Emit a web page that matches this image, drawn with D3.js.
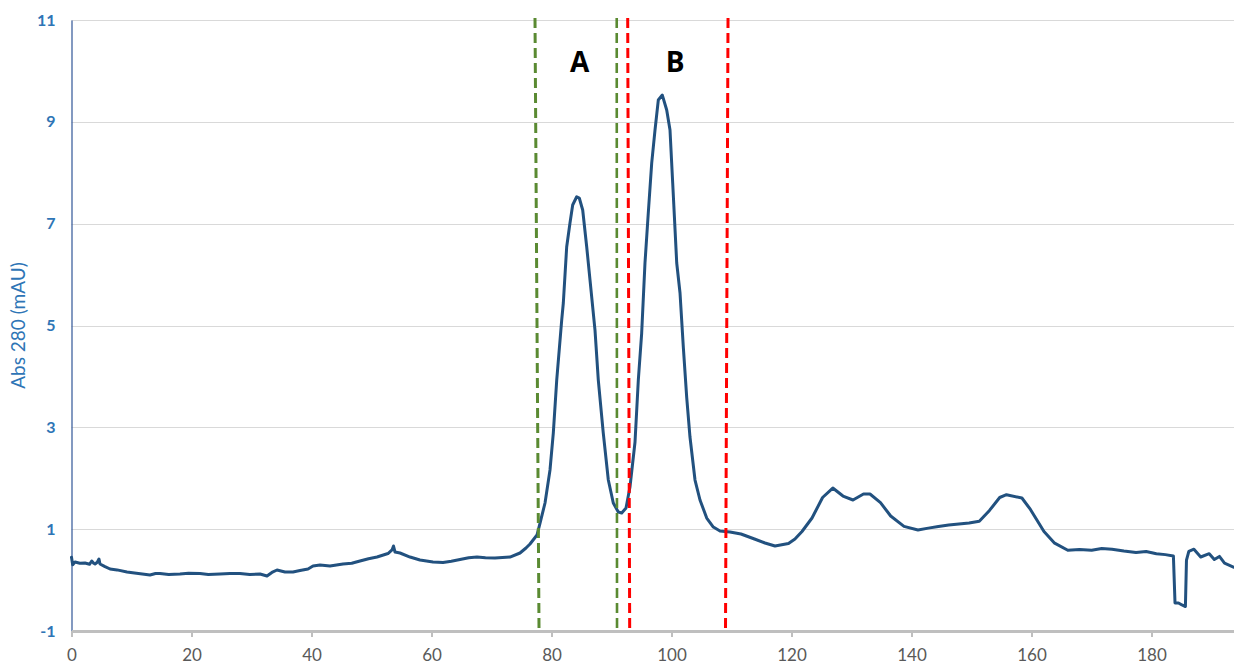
<!DOCTYPE html>
<html>
<head>
<meta charset="utf-8">
<script src="https://cdn.jsdelivr.net/npm/d3@7"></script>
<style>
  html, body { margin: 0; padding: 0; background: #ffffff; }
  svg { display: block; }
</style>
</head>
<body>
<svg id="chart" width="1234" height="666"></svg>
<script>
// Elution volume (mL) and absorbance at 280 nm (mAU) of the chromatogram trace
const volume = [
  0, 0.2, 0.58, 1.4, 2.25, 3.0, 3.37, 3.7, 3.92, 4.3, 4.58, 4.75, 5.5, 6.42, 7.6, 9.25, 10.5, 11.8,
  13.08, 14.0, 14.75, 16.2, 18.08, 19.5, 21.42, 22.8, 24.75, 26.4, 28.08, 29.7, 31.42, 32.58, 33.4,
  34.25, 35.58, 36.92, 38.08, 39.42, 40.25, 41.42, 43.08, 45.25, 46.7, 48.08, 49.5, 50.92, 52.75,
  53.42, 53.67, 53.92, 54.75, 56.42, 58.08, 60.25, 61.92, 63.3, 64.75, 66.2, 67.58, 69.0, 70.58,
  73.08, 74.75, 75.75, 76.42, 77.58, 78.08, 78.92, 79.75, 80.3, 80.87, 81.7, 81.97, 82.53, 83.08,
  83.53, 84.2, 84.63, 85.2, 85.87, 86.42, 87.25, 87.8, 88.63, 89.47, 90.3, 91.13, 91.7, 92.42,
  93.08, 93.92, 94.47, 95.03, 95.58, 96.13, 96.7, 97.25, 97.8, 98.47, 99.2, 99.75, 100.2, 100.87,
  101.42, 101.97, 102.53, 103.08, 103.92, 104.75, 105.87, 106.97, 108.08, 109.75, 111.58, 113.83,
  115.58, 117.25, 119.5, 120.58, 121.75, 123.42, 125.18, 126.88, 128.58, 130.25, 132.0, 133.08,
  134.83, 136.53, 138.75, 141.08, 142.8, 144.48, 146.2, 147.9, 149.6, 151.3, 153.0, 154.7, 155.83,
  158.4, 159.82, 162.08, 163.78, 166.05, 168.0, 170.03, 171.7, 173.42, 175.4, 177.42, 179.1, 180.82,
  182.3, 183.65, 183.92, 184.5, 185.08, 185.65, 185.83, 186.22, 187.07, 188.2, 189.62, 190.47,
  191.32, 192.17, 193.75
];
const abs280 = [
  0.45, 0.3, 0.355, 0.33, 0.335, 0.31, 0.375, 0.33, 0.316, 0.35, 0.414, 0.316, 0.27, 0.218, 0.2,
  0.159, 0.14, 0.12, 0.1, 0.13, 0.129, 0.11, 0.119, 0.135, 0.129, 0.11, 0.119, 0.13, 0.129, 0.11,
  0.119, 0.08, 0.15, 0.198, 0.159, 0.159, 0.188, 0.218, 0.277, 0.296, 0.277, 0.316, 0.33, 0.375,
  0.42, 0.453, 0.522, 0.591, 0.669, 0.551, 0.532, 0.453, 0.394, 0.355, 0.345, 0.37, 0.404, 0.44,
  0.453, 0.44, 0.434, 0.453, 0.532, 0.63, 0.709, 0.885, 1.115, 1.514, 2.162, 2.888, 3.929, 5.108,
  5.442, 6.542, 7.013, 7.367, 7.529, 7.504, 7.268, 6.542, 5.893, 4.911, 3.929, 2.888, 1.965, 1.514,
  1.337, 1.317, 1.416, 1.828, 2.712, 3.929, 4.852, 6.227, 7.209, 8.191, 8.839, 9.428, 9.526, 9.232,
  8.839, 7.798, 6.227, 5.638, 4.577, 3.595, 2.81, 1.965, 1.573, 1.219, 1.042, 0.964, 0.944, 0.905,
  0.807, 0.728, 0.669, 0.718, 0.807, 0.954, 1.219, 1.622, 1.808, 1.651, 1.573, 1.691, 1.691, 1.522,
  1.258, 1.054, 0.984, 1.02, 1.054, 1.08, 1.101, 1.12, 1.154, 1.368, 1.622, 1.677, 1.612, 1.388,
  0.954, 0.732, 0.585, 0.6, 0.585, 0.62, 0.606, 0.57, 0.54, 0.56, 0.518, 0.5, 0.473, -0.45, -0.45,
  -0.489, -0.519, 0.394, 0.565, 0.606, 0.453, 0.518, 0.404, 0.465, 0.332, 0.251
];

// Fraction boundaries: [volume at top, volume at bottom]
const poolA = [[77.25, 77.92], [90.87, 90.92]];
const poolB = [[92.7, 93.03], [109.42, 109.0]];
const poolLabels = ["A", "B"];
const poolLabelX = [84.7, 100.6];
const poolLabelY = 10.0;

const xTicks = [0, 20, 40, 60, 80, 100, 120, 140, 160, 180];
const yTicks = [-1, 1, 3, 5, 7, 9, 11];
const yTitle = "Abs 280 (mAU)";

const plotLeft = 71.5, plotRight = 1234, plotTop = 20, plotBottom = 631;

const svg = d3.select("#chart");
const x = d3.scaleLinear().domain([0, 193.75]).range([plotLeft, plotRight]);
const y = d3.scaleLinear().domain([-1, 11]).range([plotBottom, plotTop]);

// Horizontal gridlines
svg.append("g")
  .selectAll("line")
  .data(yTicks.filter(v => v > -1))
  .join("line")
  .attr("x1", plotLeft).attr("x2", plotRight)
  .attr("y1", d => Math.round(y(d)) + 0.5).attr("y2", d => Math.round(y(d)) + 0.5)
  .attr("stroke", "#d9d9d9").attr("stroke-width", 1);

// Y axis
const yAxis = svg.append("g")
  .attr("transform", `translate(${plotLeft},0)`)
  .call(d3.axisLeft(y).tickValues(yTicks).tickSize(0).tickPadding(16).tickFormat(d => String(d)));
yAxis.select(".domain").attr("stroke", "#2f5597").attr("stroke-width", 1.2);
yAxis.selectAll("text")
  .attr("fill", "#2e75b6")
  .style("font-family", "Lato, 'Open Sans', sans-serif")
  .style("font-weight", "700")
  .style("font-size", "16px");

svg.append("text")
  .attr("transform", `translate(25,${(plotTop + plotBottom) / 2}) rotate(-90)`)
  .attr("text-anchor", "middle")
  .attr("fill", "#2e75b6")
  .style("font-family", "Lato, 'Open Sans', sans-serif")
  .style("font-size", "19px")
  .text(yTitle);

// Chromatogram trace
const line = d3.line()
  .x((d, i) => x(volume[i]))
  .y(d => y(d))
  .curve(d3.curveLinear);
svg.append("path")
  .datum(abs280)
  .attr("d", line)
  .attr("fill", "none")
  .attr("stroke", "#22517f")
  .attr("stroke-width", 3)
  .attr("stroke-linejoin", "round")
  .attr("stroke-linecap", "round");

// X axis
const xAxis = svg.append("g")
  .attr("transform", `translate(0,${plotBottom})`)
  .call(d3.axisBottom(x).tickValues(xTicks).tickSize(6).tickPadding(12).tickSizeOuter(0));
xAxis.select(".domain").attr("stroke", "#bfbfbf").attr("stroke-width", 3);
xAxis.selectAll(".tick line").attr("stroke", "#bfbfbf").attr("stroke-width", 2);
xAxis.selectAll("text")
  .attr("fill", "#595959")
  .style("font-family", "Lato, 'Open Sans', sans-serif")
  .style("font-size", "17px");

// Fraction boundary lines
function drawCuts(cuts, colour, widths) {
  svg.append("g")
    .selectAll("line")
    .data(cuts)
    .join("line")
    .attr("x1", d => x(d[0])).attr("y1", y(11) - 2)
    .attr("x2", d => x(d[1])).attr("y2", y(-1))
    .attr("stroke", colour)
    .attr("stroke-width", (d, i) => widths[i])
    .attr("stroke-dasharray", "10 5");
}
drawCuts(poolA, "#5a8a32", [3, 2.6]);
drawCuts(poolB, "#ff0000", [3, 3]);

// Pool labels
svg.append("g")
  .selectAll("text")
  .data(poolLabels)
  .join("text")
  .attr("x", (d, i) => x(poolLabelX[i]))
  .attr("y", y(poolLabelY) + 1)
  .attr("text-anchor", "middle")
  .attr("fill", "#000000")
  .style("font-family", "'Open Sans', Lato, sans-serif")
  .style("font-weight", "700")
  .style("font-size", "28px")
  .text(d => d);
</script>
</body>
</html>
